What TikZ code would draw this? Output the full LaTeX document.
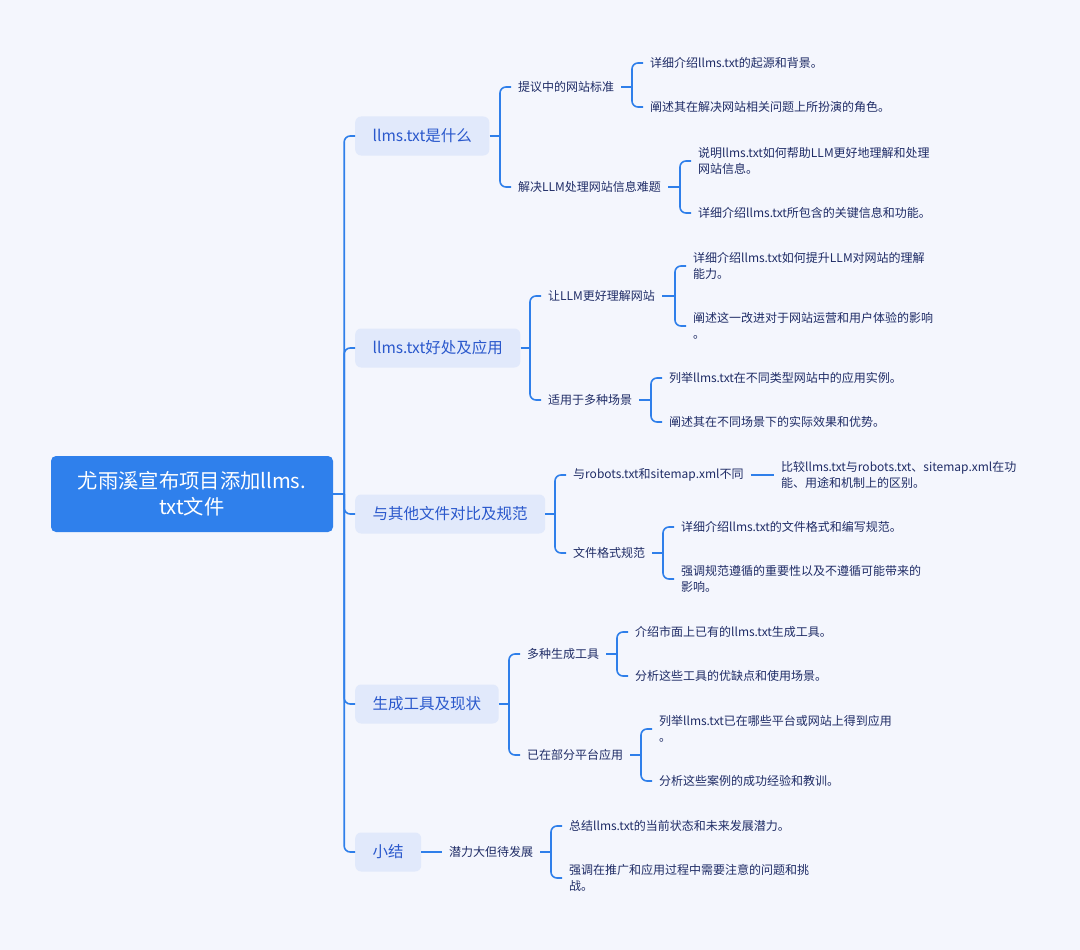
\documentclass[tikz,border=0pt]{standalone}
\usepackage{fontspec}
\newfontfamily\cjk{Noto Sans CJK SC}
\usepackage{tikz}
\usetikzlibrary{calc, positioning}
\definecolor{bgc}{HTML}{F4F6FD}
\definecolor{linec}{HTML}{2F7FEA}
\definecolor{rootc}{HTML}{2F80EC}
\definecolor{topicc}{HTML}{E1E9FB}
\definecolor{topict}{HTML}{2A58CC}
\definecolor{textc}{HTML}{1F2C66}

\begin{document}
\begin{tikzpicture}[x=1pt, y=-1pt,
  root/.style={fill=rootc, text=white, rounded corners=5pt, minimum width=282pt,
    minimum height=76pt, align=center, font=\cjk\fontsize{20.3}{26}\selectfont},
  topic/.style={fill=topicc, text=topict, rounded corners=6pt, minimum height=39pt,
    inner xsep=17.5pt, anchor=west, font=\cjk\fontsize{15.5}{20}\selectfont},
  sub/.style={text=textc, inner xsep=7pt, inner ysep=2pt, anchor=west, align=left,
    font=\cjk\fontsize{12}{16}\selectfont},
  leaf/.style={sub},
  link/.style={draw=linec, line width=1.6pt, rounded corners=6pt}]
\fill[bgc] (0,0) rectangle (1080,950);

% root and main topics
\node[root] (r) at (192,494) {尤雨溪宣布项目添加llms.\\txt文件};
\node[topic] (t1) at (355,136) {llms.txt是什么};
\node[topic] (t2) at (355,348) {llms.txt好处及应用};
\node[topic] (t3) at (355,514) {与其他文件对比及规范};
\node[topic] (t4) at (355,704) {生成工具及现状};
\node[topic] (t5) at (355,852) {小结};

% second level
\node[sub] (s11) at (511,87) {提议中的网站标准};
\node[sub] (s12) at (511,187) {解决LLM处理网站信息难题};
\node[sub] (s21) at (541,296) {让LLM更好理解网站};
\node[sub] (s22) at (541,400) {适用于多种场景};
\node[sub] (s31) at (566,475) {与robots.txt和sitemap.xml不同};
\node[sub] (s32) at (566,553) {文件格式规范};
\node[sub] (s41) at (520,654) {多种生成工具};
\node[sub] (s42) at (520,755) {已在部分平台应用};
\node[sub] (s51) at (442,852) {潜力大但待发展};

% third level
\node[leaf] (l111) at (643,63) {详细介绍llms.txt的起源和背景。};
\node[leaf] (l112) at (643,107) {阐述其在解决网站相关问题上所扮演的角色。};
\node[leaf] (l121) at (691,161) {说明llms.txt如何帮助LLM更好地理解和处理\\网站信息。};
\node[leaf] (l122) at (691,213) {详细介绍llms.txt所包含的关键信息和功能。};
\node[leaf] (l211) at (686,266) {详细介绍llms.txt如何提升LLM对网站的理解\\能力。};
\node[leaf] (l212) at (686,326) {阐述这一改进对于网站运营和用户体验的影响\\。};
\node[leaf] (l221) at (662,378) {列举llms.txt在不同类型网站中的应用实例。};
\node[leaf] (l222) at (662,422) {阐述其在不同场景下的实际效果和优势。};
\node[leaf] (l311) at (774,475) {比较llms.txt与robots.txt、sitemap.xml在功\\能、用途和机制上的区别。};
\node[leaf] (l321) at (674,527) {详细介绍llms.txt的文件格式和编写规范。};
\node[leaf] (l322) at (674,579) {强调规范遵循的重要性以及不遵循可能带来的\\影响。};
\node[leaf] (l411) at (628,632) {介绍市面上已有的llms.txt生成工具。};
\node[leaf] (l412) at (628,676) {分析这些工具的优缺点和使用场景。};
\node[leaf] (l421) at (652,729) {列举llms.txt已在哪些平台或网站上得到应用\\。};
\node[leaf] (l422) at (652,781) {分析这些案例的成功经验和教训。};
\node[leaf] (l511) at (562,826) {总结llms.txt的当前状态和未来发展潜力。};
\node[leaf] (l512) at (562,878) {强调在推广和应用过程中需要注意的问题和挑\\战。};

% trunk
\coordinate (rj) at ($(r.east)+(11,0)$);
\draw[link] (r.east) -- (rj);
\foreach \t in {t1,t2,t3,t4,t5}
  \draw[link] (rj) |- (\t.west);

% forks
\foreach \p/\a/\b in {t1/s11/s12, t2/s21/s22, t3/s31/s32, t4/s41/s42,
    s11/l111/l112, s12/l121/l122, s21/l211/l212, s22/l221/l222,
    s32/l321/l322, s41/l411/l412, s42/l421/l422, s51/l511/l512} {
  \coordinate (\p j) at ($(\p.east -| \a.west)+(-11,0)$);
  \draw[link] (\p.east) -- (\p j);
  \draw[link] (\p j) |- (\a.west);
  \draw[link] (\p j) |- (\b.west);
}
\draw[link] (t5.east) -- (s51.west);
\draw[link] (s31.east) -- (l311.west);
\end{tikzpicture}
\end{document}
